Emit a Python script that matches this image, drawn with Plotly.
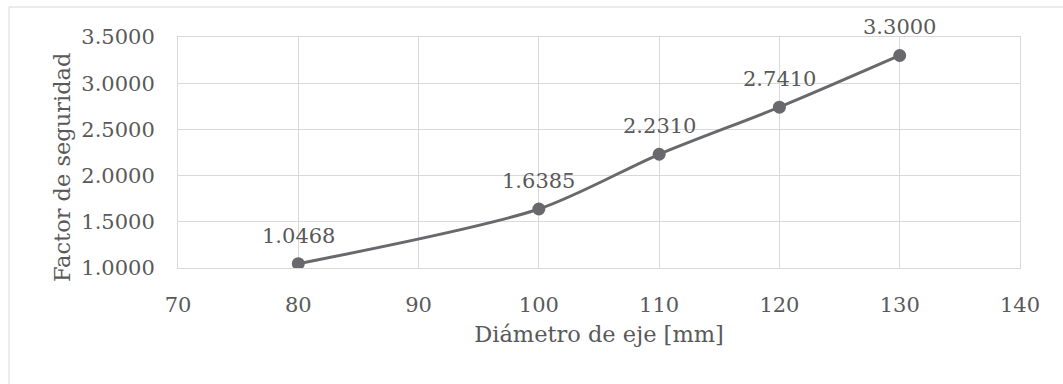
import plotly.graph_objects as go

diametro = [80, 100, 110, 120, 130]
factor = [1.0468, 1.6385, 2.2310, 2.7410, 3.3000]
etiquetas = ["1.0468", "1.6385", "2.2310", "2.7410", "3.3000"]
x_ticks = [70, 80, 90, 100, 110, 120, 130, 140]
y_ticks = [1.0, 1.5, 2.0, 2.5, 3.0, 3.5]
y_ticklabels = ["1.0000", "1.5000", "2.0000", "2.5000", "3.0000", "3.5000"]

FONT = "DejaVu Serif"
TXT = "#595959"
GRID = "#d9d9d9"
LINE = "#68686d"

L, R, T, B = 178, 43, 37, 116
W, H = 1063, 384
pw, ph = W - L - R, H - T - B

fig = go.Figure()
fig.add_trace(go.Scatter(
    x=diametro, y=factor, mode="lines+markers",
    line=dict(color=LINE, width=3, shape="spline", smoothing=0.8),
    marker=dict(color=LINE, size=13),
    hoverinfo="x+y", showlegend=False,
))

for xv, yv, t in zip(diametro, factor, etiquetas):
    fig.add_annotation(x=xv, y=yv, text=t, showarrow=False, yshift=28,
                       font=dict(family=FONT, size=21, color=TXT))

fig.add_annotation(xref="paper", yref="paper",
                   x=(47 - L) / pw, y=1 - (168 - T) / ph,
                   text="Factor de seguridad", textangle=-90, showarrow=False,
                   font=dict(family=FONT, size=22.5, color=TXT))

fig.add_shape(type="rect", xref="paper", yref="paper",
              x0=(9 - L) / pw, x1=1.3, y0=-1, y1=1 + (T - 7) / ph,
              line=dict(color=GRID, width=1), fillcolor="rgba(0,0,0,0)", layer="below")

fig.update_layout(
    width=W, height=H,
    margin=dict(l=L, r=R, t=T, b=B),
    paper_bgcolor="white", plot_bgcolor="white",
    font=dict(family=FONT, size=21, color=TXT),
    xaxis=dict(range=[70, 140], tickvals=x_ticks, ticktext=[str(v) for v in x_ticks],
               showgrid=True, gridcolor=GRID, gridwidth=1,
               showline=True, linecolor=GRID, linewidth=1, mirror=True,
               zeroline=False, ticks="", ticklabelstandoff=18,
               title=dict(text="Diámetro de eje [mm]", standoff=10,
                          font=dict(family=FONT, size=22.5, color=TXT)),
               tickfont=dict(family=FONT, size=21, color=TXT)),
    yaxis=dict(range=[1.0, 3.5], tickvals=y_ticks, ticktext=y_ticklabels,
               showgrid=True, gridcolor=GRID, gridwidth=1,
               showline=True, linecolor=GRID, linewidth=1, mirror=True,
               zeroline=False, ticks="", ticklabelstandoff=18,
               tickfont=dict(family=FONT, size=21, color=TXT)),
)

fig.write_html("out.html")
